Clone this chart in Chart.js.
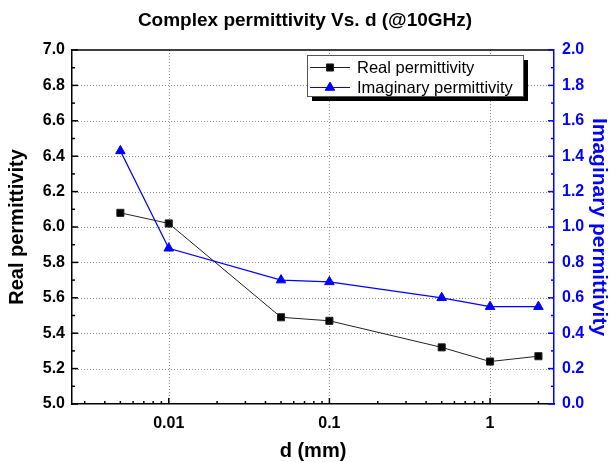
<!DOCTYPE html>
<html>
<head>
<meta charset="utf-8">
<script src="https://cdn.jsdelivr.net/npm/chart.js@4.4.0/dist/chart.umd.min.js"></script>
<style>
  html, body { margin: 0; padding: 0; background: #fff; }
</style>
</head>
<body>
<canvas id="permChart" width="610" height="462"></canvas>
<script>
// thickness d in mm and the two permittivity parts at 10 GHz
const thickness = [0.005, 0.01, 0.05, 0.1, 0.5, 1, 2];
const realPerm = [6.08, 6.02, 5.49, 5.47, 5.32, 5.24, 5.27];
const imagPerm = [1.43, 0.88, 0.70, 0.69, 0.60, 0.55, 0.55];
const xTicks = [0.01, 0.1, 1];
const xTickLabels = ["0.01", "0.1", "1"];

const FONT = "'Liberation Sans', Arial, sans-serif";
const BLUE = "#0000ff";

// dotted grid, inward ticks and the top frame line (Origin style)
const frame = {
  id: "frame",
  beforeDatasetsDraw(chart) {
    const { ctx, chartArea: a, scales } = chart;
    ctx.save();
    ctx.strokeStyle = "#8c8c8c";
    ctx.lineWidth = 1;
    ctx.setLineDash([1, 2]);
    scales.x.ticks.forEach(t => {
      const px = Math.round(scales.x.getPixelForValue(t.value)) + 0.5;
      ctx.beginPath(); ctx.moveTo(px, a.top); ctx.lineTo(px, a.bottom); ctx.stroke();
    });
    scales.y.ticks.forEach(t => {
      if (t.value <= scales.y.min || t.value >= scales.y.max) return;
      const py = Math.round(scales.y.getPixelForValue(t.value)) + 0.5;
      ctx.beginPath(); ctx.moveTo(a.left, py); ctx.lineTo(a.right, py); ctx.stroke();
    });
    ctx.restore();
  },
  afterDraw(chart) {
    const { ctx, chartArea: a, scales } = chart;
    ctx.save();
    ctx.lineWidth = 1.5;
    ctx.strokeStyle = "#000";
    ctx.beginPath(); ctx.moveTo(a.left, a.top); ctx.lineTo(a.right, a.top); ctx.stroke();

    const tick = (x1, y1, x2, y2) => { ctx.beginPath(); ctx.moveTo(x1, y1); ctx.lineTo(x2, y2); ctx.stroke(); };

    // left axis: major 0.2, minor 0.1
    scales.y.ticks.forEach((t, i) => {
      const py = scales.y.getPixelForValue(t.value);
      tick(a.left, py, a.left + 6, py);
      if (i < scales.y.ticks.length - 1) {
        const pm = scales.y.getPixelForValue(t.value + 0.1);
        tick(a.left, pm, a.left + 3, pm);
      }
    });
    // right axis
    ctx.strokeStyle = BLUE;
    scales.y1.ticks.forEach((t, i) => {
      const py = scales.y1.getPixelForValue(t.value);
      tick(a.right, py, a.right - 6, py);
      if (i < scales.y1.ticks.length - 1) {
        const pm = scales.y1.getPixelForValue(t.value + 0.1);
        tick(a.right, pm, a.right - 3, pm);
      }
    });
    // bottom log axis
    ctx.strokeStyle = "#000";
    [0.001, 0.01, 0.1, 1].forEach(dec => {
      for (let k = 1; k <= 9; k++) {
        const v = k * dec;
        if (v < scales.x.min || v > scales.x.max) continue;
        const px = scales.x.getPixelForValue(v);
        tick(px, a.bottom, px, a.bottom - (k === 1 ? 6 : 3));
      }
    });
    ctx.restore();
  }
};

// boxed legend with drop shadow
const boxLegend = {
  id: "boxLegend",
  afterDraw(chart) {
    const { ctx, chartArea: a } = chart;
    const x0 = a.left + 235, y0 = a.top + 5, w = 216, h = 41;
    ctx.save();
    ctx.fillStyle = "#000";
    ctx.fillRect(x0 + 5, y0 + 5, w, h);
    ctx.fillStyle = "#fff";
    ctx.fillRect(x0, y0, w, h);
    ctx.strokeStyle = "#555";
    ctx.lineWidth = 1;
    ctx.strokeRect(x0 + 0.5, y0 + 0.5, w, h);
    ctx.font = "16.5px " + FONT;
    ctx.textBaseline = "middle";
    chart.data.datasets.forEach((ds, i) => {
      const ry = y0 + 12.5 + i * 20;
      ctx.strokeStyle = ds.borderColor;
      ctx.lineWidth = 1;
      ctx.beginPath(); ctx.moveTo(x0 + 3, ry); ctx.lineTo(x0 + 43, ry); ctx.stroke();
      ctx.fillStyle = ds.backgroundColor;
      Chart.helpers.drawPoint(ctx, { pointStyle: ds.pointStyle, radius: ds.pointRadius, rotation: 0, borderWidth: 1 }, x0 + 23, ry);
      ctx.fillStyle = "#000";
      ctx.fillText(ds.label, x0 + 50, ry + 1);
    });
    ctx.restore();
  }
};

new Chart(document.getElementById("permChart"), {
  type: "line",
  data: {
    datasets: [
      {
        label: "Real permittivity",
        data: thickness.map((d, i) => ({ x: d, y: realPerm[i] })),
        yAxisID: "y",
        borderColor: "#222",
        backgroundColor: "#000",
        borderWidth: 1,
        pointStyle: "rect",
        pointRadius: 5,
        pointBorderWidth: 1,
        order: 2,
      },
      {
        label: "Imaginary permittivity",
        data: thickness.map((d, i) => ({ x: d, y: imagPerm[i] })),
        yAxisID: "y1",
        borderColor: BLUE,
        backgroundColor: BLUE,
        borderWidth: 1.2,
        pointStyle: "triangle",
        pointRadius: 5.5,
        pointBorderWidth: 1,
        order: 1,
      },
    ],
  },
  options: {
    responsive: false,
    animation: false,
    layout: { padding: 0 },
    plugins: {
      legend: { display: false },
      tooltip: { enabled: false },
      title: {
        display: true,
        text: "Complex permittivity Vs. d (@10GHz)",
        color: "#000",
        font: { family: FONT, size: 19, weight: "bold", lineHeight: 1.2 },
        padding: { top: 9, bottom: 18.2 },
      },
    },
    scales: {
      x: {
        type: "logarithmic",
        min: 0.0025,
        max: 2.5,
        afterBuildTicks: s => { s.ticks = xTicks.map(v => ({ value: v, major: true })); },
        afterFit: s => { s.height = 58; },
        grid: { display: false, drawTicks: false },
        border: { color: "#000", width: 1.5 },
        ticks: {
          padding: 10,
          color: "#000",
          maxRotation: 0,
          font: { family: FONT, size: 16, weight: "bold" },
          callback: (v, i) => xTickLabels[i],
        },
        title: {
          display: true,
          text: "d (mm)",
          color: "#000",
          padding: 0,
          font: { family: FONT, size: 20, weight: "bold", lineHeight: 1.1 },
        },
      },
      y: {
        position: "left",
        min: 5,
        max: 7,
        afterFit: s => { s.width = 72; },
        grid: { display: false, drawTicks: false },
        border: { color: "#000", width: 1.5 },
        ticks: {
          stepSize: 0.2,
          padding: 7,
          color: "#000",
          font: { family: FONT, size: 16, weight: "bold" },
          callback: v => v.toFixed(1),
        },
        title: {
          display: true,
          text: "Real permittivity",
          color: "#000",
          padding: { top: 5, bottom: 0 },
          font: { family: FONT, size: 20, weight: "bold", lineHeight: 1.2 },
        },
      },
      y1: {
        position: "right",
        min: 0,
        max: 2,
        afterFit: s => { s.width = 56; },
        grid: { display: false, drawTicks: false },
        border: { color: BLUE, width: 1.5 },
        ticks: {
          stepSize: 0.2,
          padding: 8,
          color: BLUE,
          font: { family: FONT, size: 16, weight: "bold" },
          callback: v => v.toFixed(1),
        },
        title: {
          display: true,
          text: "Imaginary permittivity",
          color: BLUE,
          padding: { top: -1, bottom: 0 },
          font: { family: FONT, size: 21, weight: "bold", lineHeight: 1.2 },
        },
      },
    },
  },
  plugins: [frame, boxLegend],
});
</script>
</body>
</html>
